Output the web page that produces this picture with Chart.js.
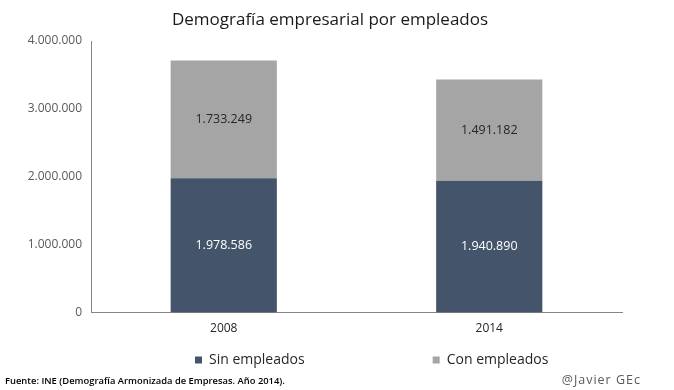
<!DOCTYPE html>
<html><head><meta charset="utf-8">
<script src="https://cdn.jsdelivr.net/npm/chart.js@4.4.1/dist/chart.umd.min.js"></script>
<style>html,body{margin:0;padding:0;background:#fff}#wrap{width:674px;height:390px;position:relative}</style>
</head><body><div id="wrap"><canvas id="c" width="674" height="390"></canvas></div>
<script>
const categories = ['2008', '2014'];
const seriesNames = ['Sin empleados', 'Con empleados'];
const sinEmpleados = [1978586, 1940890];
const conEmpleados = [1733249, 1491182];
const yTicks = [0, 1000000, 2000000, 3000000, 4000000];
const titleText = 'Demografía empresarial por empleados';
const sourceText = 'Fuente: INE (Demografía Armonizada de Empresas. Año 2014).';
const creditText = '@Javier GEc';

const FONT = "'Open Sans', 'DejaVu Sans', sans-serif";
const LEGEND_START = 195;
const LEGEND_SPACES = 33;
const TITLE_CENTER = 330;
const fmt = n => String(n).replace(/\B(?=(\d{3})+(?!\d))/g, '.');

const dataLabels = {
  id: 'dataLabels',
  afterDatasetsDraw(chart) {
    const ctx = chart.ctx;
    ctx.save();
    ctx.font = "12.5px " + FONT;
    ctx.textAlign = 'center';
    ctx.textBaseline = 'middle';
    chart.data.datasets.forEach((ds, i) => {
      const meta = chart.getDatasetMeta(i);
      meta.data.forEach((bar, j) => {
        const p = bar.getProps(['x', 'y', 'base'], true);
        ctx.fillStyle = i === 0 ? '#ffffff' : '#262626';
        ctx.fillText(fmt(ds.data[j]), p.x, (p.y + p.base) / 2);
      });
    });
    ctx.restore();
  }
};

const footer = {
  id: 'footer',
  afterDraw(chart) {
    const ctx = chart.ctx;
    ctx.save();
    ctx.textBaseline = 'middle';
    ctx.font = "600 9.4px " + FONT;
    ctx.fillStyle = '#000000';
    ctx.textAlign = 'left';
    ctx.fillText(sourceText, 5, 381);
    ctx.font = "12.5px " + FONT;
    if ('letterSpacing' in ctx) ctx.letterSpacing = '1px';
    ctx.fillStyle = '#595959';
    ctx.textAlign = 'right';
    ctx.fillText(creditText, 641, 380);
    ctx.restore();
  }
};

const blockShift = {
  id: 'blockShift',
  afterLayout(chart) {
    const lg = chart.legend;
    if (lg && lg.lineWidths) {
      const p = lg.options.labels.padding;
      const start = (lg.left + p + lg.right - lg.lineWidths[0]) / 2;
      const dx = LEGEND_START - start;
      lg.left += dx; lg.right += dx;
    }
    const tb = chart.titleBlock;
    if (tb) {
      const dx = TITLE_CENTER - (tb.left + tb.right) / 2;
      tb.left += dx; tb.right += dx;
    }
  }
};

new Chart(document.getElementById('c'), {
  type: 'bar',
  data: {
    labels: categories,
    datasets: [
      { label: seriesNames[0], data: sinEmpleados, backgroundColor: '#44546A', borderWidth: 0 },
      { label: seriesNames[1], data: conEmpleados, backgroundColor: '#A5A5A5', borderWidth: 0 }
    ]
  },
  options: {
    responsive: false,
    devicePixelRatio: 1,
    animation: false,
    layout: { padding: { left: 0, right: 52, top: 0, bottom: 13 } },
    datasets: { bar: { barPercentage: 0.4, categoryPercentage: 1 } },
    scales: {
      x: {
        stacked: true,
        grid: { display: false, drawTicks: false },
        border: { display: true, color: '#868686', width: 1 },
        ticks: { color: '#262626', font: { family: FONT, size: 12 }, padding: 9 }
      },
      y: {
        stacked: true,
        min: 0, max: 4000000,
        afterBuildTicks: s => { s.ticks = yTicks.map(v => ({ value: v })); },
        afterFit: s => { s.width = 91; },
        grid: { display: false, drawTicks: false },
        border: { display: true, color: '#868686', width: 1 },
        ticks: { color: '#595959', font: { family: FONT, size: 12 }, padding: 9, callback: v => fmt(v) }
      }
    },
    plugins: {
      title: {
        display: true, text: titleText, color: '#1a1a1a',
        font: { family: FONT, size: 17, weight: 'normal' },
        padding: { top: 10, bottom: 10.6 }
      },
      legend: {
        display: true, position: 'bottom',
        labels: {
          color: '#262626', font: { family: FONT, size: 14 },
          boxWidth: 7, boxHeight: 7, padding: 8,
          generateLabels(chart) {
            const items = Chart.defaults.plugins.legend.labels.generateLabels(chart);
            items[0].text = items[0].text + ' '.repeat(LEGEND_SPACES);
            return items;
          }
        }
      },
      tooltip: { enabled: false }
    }
  },
  plugins: [dataLabels, footer, blockShift]
});
</script>
</body></html>
